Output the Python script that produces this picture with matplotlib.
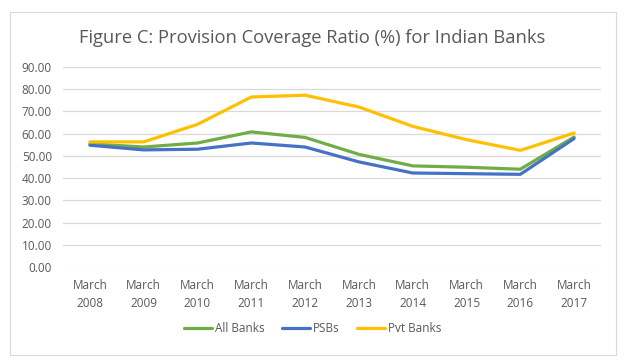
import matplotlib.pyplot as plt
from matplotlib.patches import Rectangle

# Data
years = ['March\n2008', 'March\n2009', 'March\n2010', 'March\n2011', 'March\n2012',
         'March\n2013', 'March\n2014', 'March\n2015', 'March\n2016', 'March\n2017']
all_banks = [55.4, 54.0, 55.8, 60.8, 58.3, 50.7, 45.5, 44.9, 44.0, 58.5]
psbs = [54.8, 52.7, 53.0, 55.8, 54.0, 47.3, 42.3, 42.0, 41.7, 57.8]
pvt_banks = [56.3, 56.3, 64.2, 76.5, 77.3, 72.0, 63.3, 57.3, 52.5, 60.3]
yticks = [0, 10, 20, 30, 40, 50, 60, 70, 80, 90]

TEXT = '#595959'
plt.rcParams['font.family'] = ['Open Sans', 'DejaVu Sans']

fig = plt.figure(figsize=(6.25, 3.61), dpi=100)
ax = fig.add_axes([0.1008, 0.2604, 0.8608, 0.554])

# Chart border, as in the Excel export
fig.patches.append(Rectangle((10 / 625, 6 / 361), 606 / 625, 343 / 361,
                             transform=fig.transFigure, fill=False,
                             edgecolor='#D9D9D9', linewidth=0.8))

x = range(len(years))
ax.plot(x, all_banks, color='#70AD47', linewidth=2.3, label='All Banks',
        solid_capstyle='round')
ax.plot(x, psbs, color='#4472C4', linewidth=2.3, label='PSBs',
        solid_capstyle='round')
ax.plot(x, pvt_banks, color='#FFC000', linewidth=2.3, label='Pvt Banks',
        solid_capstyle='round')

ax.set_xlim(-0.5, len(years) - 0.5)
ax.set_ylim(0, 90)
ax.set_yticks(yticks)
ax.set_yticklabels(['{:.2f}'.format(v) for v in yticks])
ax.set_xticks(list(x))
ax.set_xticklabels(years, linespacing=1.5)
ax.grid(axis='y', color='#D9D9D9', linewidth=0.9)
ax.set_axisbelow(True)
for spine in ax.spines.values():
    spine.set_visible(False)
ax.tick_params(length=0, labelsize=8.5, colors=TEXT)
ax.tick_params(axis='x', pad=9)
ax.tick_params(axis='y', pad=8)

fig.text(0.5, 0.895, 'Figure C: Provision Coverage Ratio (%) for Indian Banks',
         ha='center', va='center', fontsize=13.2, color=TEXT)

fig.legend(loc='center', bbox_to_anchor=(0.5, 0.09), ncol=3, frameon=False,
           fontsize=8.5, labelcolor=TEXT, handlelength=2.4, handletextpad=0.2,
           columnspacing=1.5)

fig.savefig('out.png', dpi=100)
